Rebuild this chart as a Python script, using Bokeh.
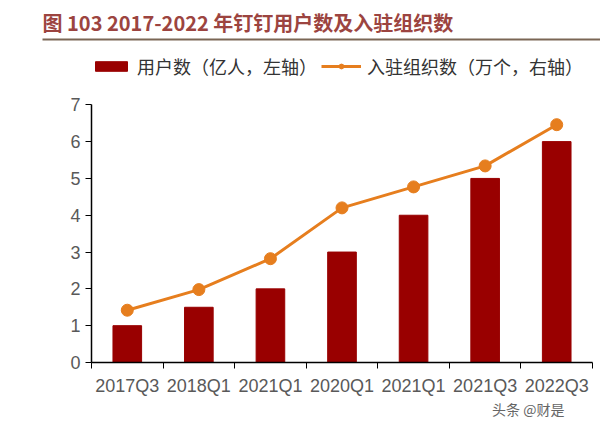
from bokeh.plotting import figure
from bokeh.models import (Range1d, FixedTicker, Legend, LegendItem, Title, ColumnDataSource)
from bokeh.layouts import column
from bokeh.embed import file_html
from bokeh.resources import INLINE
from bokeh.core.properties import value

# ---- data ----
categories = ["2017Q3", "2018Q1", "2021Q1", "2020Q1", "2021Q1", "2021Q3", "2022Q3"]
users = [1.0, 1.5, 2.0, 3.0, 4.0, 5.0, 6.0]            # 用户数（亿人，左轴）
orgs = [1.42, 1.98, 2.82, 4.2, 4.77, 5.34, 6.46]        # 入驻组织数（万个，右轴）, drawn on left scale
y_ticks = [0, 1, 2, 3, 4, 5, 6, 7]
title_text = "图 103 2017-2022 年钉钉用户数及入驻组织数"
legend_labels = ["用户数（亿人，左轴）", "入驻组织数（万个，右轴）"]
watermark = "头条 @财是"

CJK = "Noto Sans CJK SC"
LAT = "Liberation Sans"
BAR = "#990000"
LINE = "#e67e1e"
GRAY = "#595959"

W = 600
# ---- header figure (title + underline) ----
HH = 48
h = figure(width=W, height=HH, output_backend="svg", toolbar_location=None,
           x_axis_type=None, y_axis_type=None,
           x_range=Range1d(0, W), y_range=Range1d(HH, 0), min_border=0)
h.frame_align = False
h.grid.visible = False
h.outline_line_color = None
h.text(x=[42], y=[22], text=[title_text], text_font=value(CJK), text_font_size="20px",
       text_font_style="bold", text_color="#9c4440", text_baseline="middle", text_align="left")
h.segment(x0=[42], y0=[39], x1=[W], y1=[39], line_color="#7a6655", line_width=2)

# ---- main figure ----
MH = 378
n = len(categories)
xs = [i + 0.5 for i in range(n)]
src = ColumnDataSource(dict(x=xs, users=users, orgs=orgs))

frame_h = MH - 64
unit = 257.7 / 7
y_end = frame_h / unit

p = figure(width=W, height=MH, output_backend="svg", toolbar_location=None,
           x_range=Range1d(0, n), y_range=Range1d(0, y_end),
           min_border_left=91, min_border_right=8, min_border_top=0, min_border_bottom=64)
p.frame_align = False
p.grid.visible = False
p.outline_line_color = None

bars = p.vbar(x="x", top="users", width=0.4, source=src, fill_color=BAR, line_color=BAR)
ln = p.line(x="x", y="orgs", source=src, line_color=LINE, line_width=3)
pts = p.scatter(x="x", y="orgs", source=src, size=12, fill_color=LINE, line_color=LINE)

# x axis: labels at centres, ticks at category boundaries
xa = p.xaxis[0]
xa.ticker = FixedTicker(ticks=xs, minor_ticks=list(range(n + 1)))
xa.major_label_overrides = {x: c for x, c in zip(xs, categories)}
xa.major_tick_line_color = None
xa.minor_tick_line_color = "#000000"
xa.minor_tick_out = 6
xa.minor_tick_in = 0
xa.axis_line_color = "#000000"
xa.axis_line_width = 1.5
xa.major_label_text_font = LAT
xa.major_label_text_font_size = "18px"
xa.major_label_text_color = GRAY
xa.major_label_standoff = 7

ya = p.yaxis[0]
ya.ticker = FixedTicker(ticks=y_ticks, minor_ticks=[])
ya.bounds = (0, 7)
ya.major_tick_out = 6
ya.major_tick_in = 0
ya.major_tick_line_color = "#000000"
ya.axis_line_color = "#000000"
ya.axis_line_width = 1.5
ya.major_label_text_font = LAT
ya.major_label_text_font_size = "18px"
ya.major_label_text_color = GRAY
ya.major_label_standoff = 5

legend = Legend(items=[LegendItem(label=legend_labels[0], renderers=[bars]),
                       LegendItem(label=legend_labels[1], renderers=[ln, pts])],
                orientation="horizontal", location=(0, 283),
                glyph_width=40, glyph_height=12, label_standoff=6, spacing=4,
                padding=0, margin=0, border_line_color=None, background_fill_alpha=0,
                label_text_font=CJK, label_text_font_size="18px", label_text_color="#333333",
                label_height=20)
p.add_layout(legend, "center")

p.add_layout(Title(text=watermark, align="right", offset=28, standoff=0, vertical_align="top",
                   text_font=CJK, text_font_size="14px", text_color="#666666",
                   text_font_style="normal"),
             "below")

layout = column(h, p, spacing=0)
open("out.html", "w").write(file_html(layout, INLINE))
